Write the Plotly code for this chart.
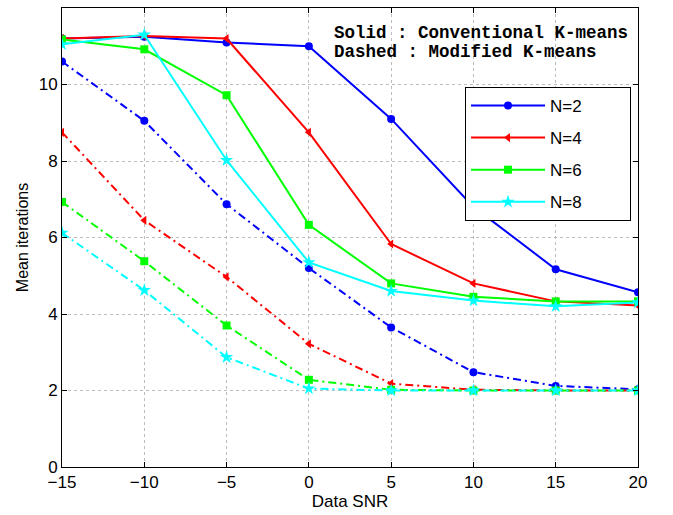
import plotly.graph_objects as go

snr = [-15, -10, -5, 0, 5, 10, 15, 20]
labels = ["N=2", "N=4", "N=6", "N=8"]
colors = ["#0000ff", "#ff0000", "#00ff00", "#00ffff"]
symbols = ["circle", "triangle-left", "square", "star"]

conv = [
    [11.2, 11.25, 11.1, 11.0, 9.1, 6.8, 5.17, 4.57],
    [11.2, 11.27, 11.2, 8.75, 5.83, 4.8, 4.33, 4.22],
    [11.18, 10.92, 9.72, 6.33, 4.8, 4.45, 4.33, 4.33],
    [11.05, 11.3, 8.02, 5.35, 4.6, 4.35, 4.2, 4.3],
]
modi = [
    [10.6, 9.05, 6.87, 5.2, 3.65, 2.48, 2.12, 2.03],
    [8.75, 6.45, 4.97, 3.22, 2.18, 2.02, 2.0, 2.0],
    [6.93, 5.38, 3.7, 2.28, 2.02, 2.0, 2.0, 2.0],
    [6.12, 4.62, 2.87, 2.05, 2.0, 2.0, 2.0, 2.0],
]

xticks = [-15, -10, -5, 0, 5, 10, 15, 20]
xticklabels = ["\u221215", "\u221210", "\u22125", "0", "5", "10", "15", "20"]
yticks = [0, 2, 4, 6, 8, 10, 12]

FONT = "Liberation Sans, Arial"

fig = go.Figure()
for i in range(4):
    fig.add_trace(go.Scatter(
        x=snr, y=modi[i], mode="lines+markers", showlegend=False,
        line=dict(color=colors[i], width=2, dash="8px,4px,2px,4px"),
        marker=dict(symbol=symbols[i], size=8 if symbols[i] != "star" else 10, color=colors[i]),
    ))
for i in range(4):
    fig.add_trace(go.Scatter(
        x=snr, y=conv[i], mode="lines+markers",
        name=labels[i] + "\u00a0" * 9, legendgroup=labels[i],
        line=dict(color=colors[i], width=2),
        marker=dict(symbol=symbols[i], size=8 if symbols[i] != "star" else 10, color=colors[i]),
    ))

axis_common = dict(
    showline=True, linecolor="black", linewidth=1, mirror="ticks",
    ticks="inside", ticklen=5, tickcolor="black",
    showgrid=True, gridcolor="#bcbcbc", griddash="dot", gridwidth=1,
    zeroline=False, tickfont=dict(family=FONT, size=17, color="black"),
)

fig.update_layout(
    width=673, height=515,
    margin=dict(l=62, r=35, t=8, b=48),
    paper_bgcolor="white", plot_bgcolor="white",
    xaxis=dict(range=[-15, 20], tickvals=xticks, ticktext=xticklabels,
               title=dict(text="Data SNR", font=dict(family=FONT, size=17, color="black"), standoff=0),
               **axis_common),
    yaxis=dict(range=[0, 12], tickvals=yticks,
               title=dict(text="Mean iterations", font=dict(family=FONT, size=16, color="black"), standoff=6),
               **axis_common),
    legend=dict(x=0.6997, y=0.828, xanchor="left", yanchor="top",
                bgcolor="white", bordercolor="black", borderwidth=1,
                font=dict(family=FONT, size=17, color="black"),
                itemwidth=74, tracegroupgap=7, traceorder="grouped"),
    annotations=[
        dict(x=(332 - 62) / 576, y=(468 - 33) / 460, xref="paper", yref="paper", xanchor="left", yanchor="middle",
             text="<b>Solid : Conventional K-means</b>", showarrow=False,
             font=dict(family="Liberation Mono, Courier New", size=17.5, color="black")),
        dict(x=(332 - 62) / 576, y=(468 - 52) / 460, xref="paper", yref="paper", xanchor="left", yanchor="middle",
             text="<b>Dashed : Modified K-means</b>", showarrow=False,
             font=dict(family="Liberation Mono, Courier New", size=17.5, color="black")),
    ],
)

fig.write_html("out.html", config={"displayModeBar": False},
               post_script="document.body.style.margin='0px';")
